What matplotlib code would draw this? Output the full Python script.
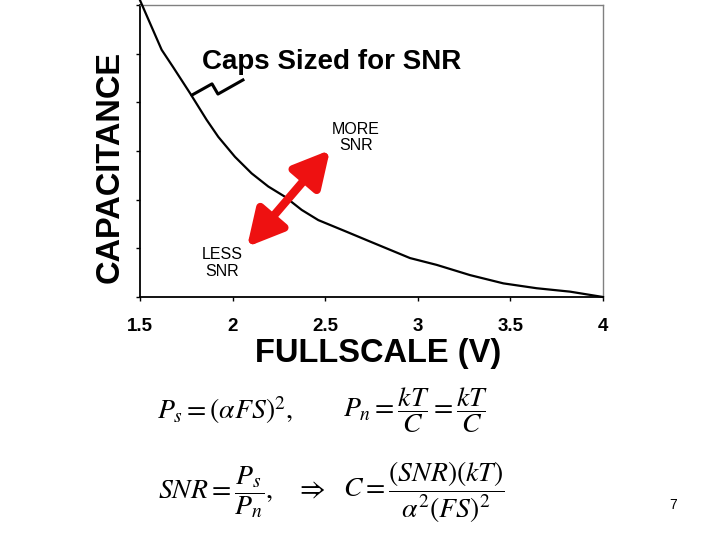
import numpy as np
import matplotlib
matplotlib.use("Agg")
import matplotlib.pyplot as plt
from matplotlib.patches import FancyArrowPatch

plt.rcParams['font.family'] = ['Liberation Sans', 'DejaVu Sans']
plt.rcParams['mathtext.fontset'] = 'stix'

# curve (fullscale V, capacitance in tick units)
fullscale = [1.5, 1.563, 1.617, 1.678, 1.770, 1.860, 1.923, 2.013, 2.103,
             2.193, 2.283, 2.373, 2.463, 2.616, 2.742, 2.958, 3.102, 3.282,
             3.462, 3.642, 3.822, 4.0]
capacitance = [6.10, 5.55, 5.08, 4.73, 4.19, 3.64, 3.29, 2.88, 2.54,
               2.27, 2.06, 1.79, 1.58, 1.34, 1.14, 0.80, 0.66, 0.45,
               0.28, 0.18, 0.11, 0.0]

xticks = [1.5, 2, 2.5, 3, 3.5, 4]
xticklabels = ['1.5', '2', '2.5', '3', '3.5', '4']
yticks = [0, 1, 2, 3, 4, 5, 6]

# squiggle pointing from the title to the curve
squiggle_x = [1.781, 1.889, 1.921, 2.056]
squiggle_y = [4.15, 4.38, 4.17, 4.46]

# red double arrow ends
arrow_start = (2.078, 1.03)
arrow_end = (2.526, 3.02)

fig = plt.figure(figsize=(7.2, 5.4), dpi=100)
ax = fig.add_axes([0.1944, 0.45, 0.6431, 0.5407])

ax.plot(fullscale, capacitance, color='black', lw=1.6, clip_on=False, zorder=3,
        solid_joinstyle='round')
ax.plot(squiggle_x, squiggle_y, color='black', lw=2.2, solid_joinstyle='round')

arr = FancyArrowPatch(arrow_start, arrow_end, arrowstyle='<|-|>,head_length=1.8,head_width=0.95',
                      mutation_scale=12, color='#ee1111', lw=6, shrinkA=0, shrinkB=0,
                      zorder=4)
ax.add_patch(arr)

ax.text(1.835, 4.83, 'Caps Sized for SNR', fontsize=20, fontweight='bold',
        ha='left', va='center')
ax.text(2.666, 3.27, 'MORE\nSNR', fontsize=11.5, ha='center', va='center',
        linespacing=1.1)
ax.text(1.943, 0.70, 'LESS\nSNR', fontsize=11.5, ha='center', va='center',
        linespacing=1.1)

ax.set_xlim(1.5, 4)
ax.set_ylim(0, 6)
ax.set_xticks(xticks)
ax.set_xticklabels(xticklabels, fontsize=13.5, fontweight='bold')
ax.set_yticks(yticks)
ax.set_yticklabels([])
ax.tick_params(axis='both', direction='out', length=3, width=1, pad=12)

for s in ['left', 'bottom']:
    ax.spines[s].set_linewidth(1.3)
    ax.spines[s].set_color('black')
for s in ['top', 'right']:
    ax.spines[s].set_linewidth(1.0)
    ax.spines[s].set_color('#808080')

ax.set_xlabel('FULLSCALE (V)', fontsize=23.5, fontweight='bold')
ax.xaxis.set_label_coords(0.514, -0.14)
ax.set_ylabel('CAPACITANCE', fontsize=23.5, fontweight='bold')
ax.yaxis.set_label_coords(-0.032, 0.445)

# equations
eq_size = 20
fig.text(157 / 720, 1 - 410 / 540, r'$P_s=\left(\alpha FS\right)^2,$', fontsize=eq_size,
         ha='left', va='center')
fig.text(343 / 720, 1 - 410 / 540, r'$P_n=\dfrac{kT}{C}=\dfrac{kT}{C}$', fontsize=eq_size,
         ha='left', va='center')
fig.text(158 / 720, 1 - 492 / 540, r'$SNR=\dfrac{P_s}{P_n},$', fontsize=eq_size,
         ha='left', va='center')
fig.text(295 / 720, 1 - 490 / 540, r'$\Rightarrow$', fontsize=eq_size,
         ha='left', va='center')
fig.text(343 / 720, 1 - 492 / 540,
         r'$C=\dfrac{\left(SNR\right)\left(kT\right)}{\alpha^2\left(FS\right)^2}$',
         fontsize=eq_size, ha='left', va='center')

fig.text(673 / 720, 1 - 505 / 540, '7', fontsize=10, ha='center', va='center')

fig.savefig('out.png', dpi=100)
